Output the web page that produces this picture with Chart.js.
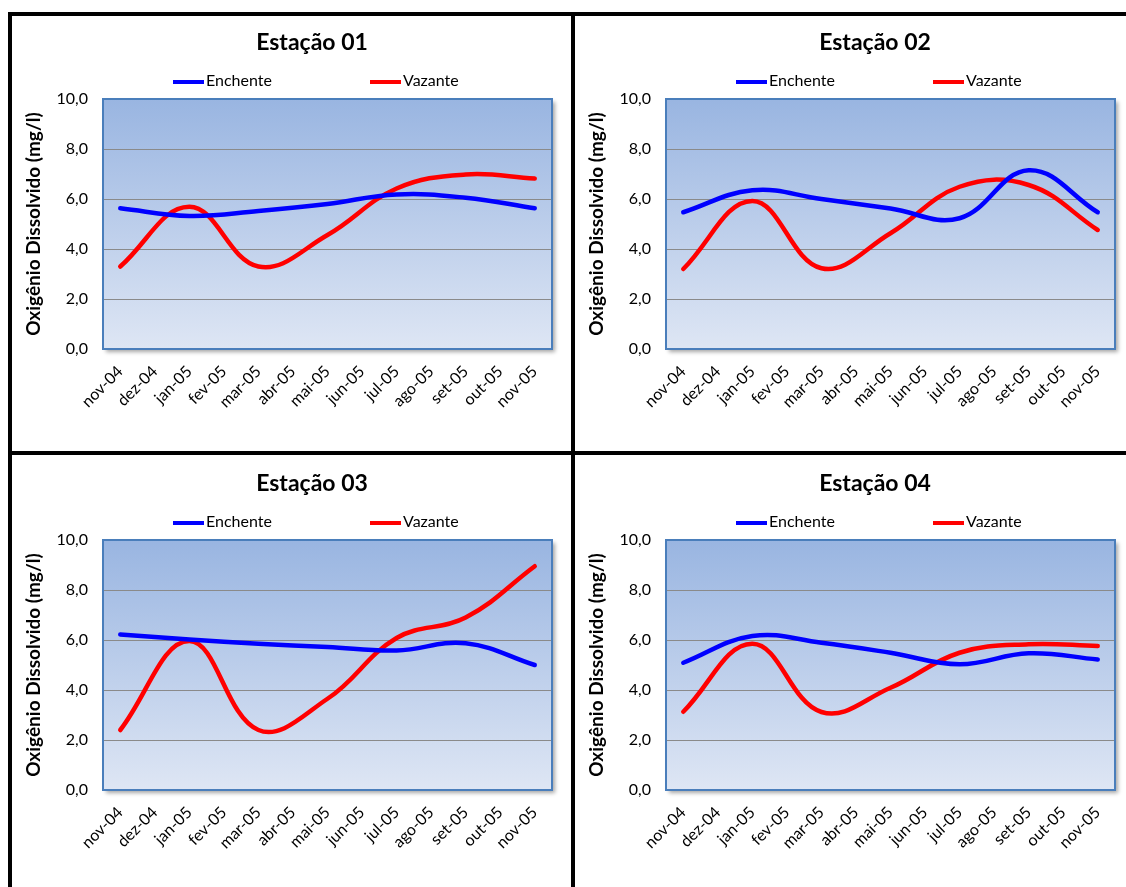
<!DOCTYPE html>
<html lang="pt-BR">
<head>
<meta charset="utf-8">
<title>Oxigênio Dissolvido – Estações 01 a 04</title>
<script src="https://cdn.jsdelivr.net/npm/chart.js@4.4.1/dist/chart.umd.min.js"></script>
<style>
  html, body { margin: 0; padding: 0; background: #fff; }
  body { width: 1126px; height: 887px; position: relative; overflow: hidden; }
  .rule { position: absolute; background: #000; }
  .panel { position: absolute; }
  .panel canvas { display: block; }
</style>
</head>
<body>
<!-- black frame splitting the page into four panels -->
<div class="rule" style="left:8px;top:12px;width:1118px;height:4px"></div>
<div class="rule" style="left:8px;top:12px;width:4px;height:875px"></div>
<div class="rule" style="left:571px;top:12px;width:4px;height:875px"></div>
<div class="rule" style="left:8px;top:451px;width:1118px;height:4px"></div>

<div class="panel" style="left:12px;top:16px"><canvas id="est01" width="559" height="435"></canvas></div>
<div class="panel" style="left:575px;top:16px"><canvas id="est02" width="551" height="435"></canvas></div>
<div class="panel" style="left:12px;top:455px"><canvas id="est03" width="559" height="432"></canvas></div>
<div class="panel" style="left:575px;top:455px"><canvas id="est04" width="551" height="432"></canvas></div>

<script>
// Monthly axis (campaigns were bimonthly; the other months are empty)
const months = ['nov-04', 'dez-04', 'jan-05', 'fev-05', 'mar-05', 'abr-05', 'mai-05',
                'jun-05', 'jul-05', 'ago-05', 'set-05', 'out-05', 'nov-05'];
const yTickLabels = ['0,0', '2,0', '4,0', '6,0', '8,0', '10,0'];
const yAxisTitle = 'Oxigênio Dissolvido (mg/l)';
const seriesNames = ['Enchente', 'Vazante'];
const stationTitles = ['Estação 01', 'Estação 02', 'Estação 03', 'Estação 04'];

// Dissolved oxygen (mg/l) per station, flood tide (Enchente) and ebb tide (Vazante)
const est01Enchente = [5.63, null, 5.32, null, 5.52, null, 5.80, null, 6.18, null, 6.05, null, 5.63];
const est01Vazante  = [3.30, null, 5.69, null, 3.30, null, 4.56, null, 6.42, null, 6.98, null, 6.82];
const est02Enchente = [5.47, null, 6.35, null, 6.00, null, 5.62, null, 5.23, null, 7.15, null, 5.47];
const est02Vazante  = [3.20, null, 5.92, null, 3.23, null, 4.63, null, 6.49, null, 6.56, null, 4.76];
const est03Enchente = [6.22, null, 6.02, null, 5.85, null, 5.72, null, 5.58, null, 5.87, null, 5.00];
const est03Vazante  = [2.40, null, 5.96, null, 2.40, null, 3.65, null, 6.08, null, 6.90, null, 8.95];
const est04Enchente = [5.09, null, 6.16, null, 5.89, null, 5.49, null, 5.03, null, 5.47, null, 5.22];
const est04Vazante  = [3.13, null, 5.85, null, 3.12, null, 4.09, null, 5.49, null, 5.83, null, 5.76];

const seriesColors = ['#0000FF', '#FF0000'];
const FONT = 'Lato, "Noto Sans", sans-serif';

// Gradient plot background with a soft drop shadow, and the blue plot border
const plotFrame = {
  id: 'plotFrame',
  beforeDraw(chart) {
    const { ctx, chartArea: a } = chart;
    ctx.save();
    ctx.shadowColor = 'rgba(0,0,0,0.35)';
    ctx.shadowOffsetX = 3;
    ctx.shadowOffsetY = 3;
    ctx.shadowBlur = 4;
    const g = ctx.createLinearGradient(0, a.top, 0, a.bottom);
    g.addColorStop(0, '#99B5E1');
    g.addColorStop(1, '#DEE6F4');
    ctx.fillStyle = g;
    ctx.fillRect(a.left, a.top, a.right - a.left, a.bottom - a.top);
    ctx.restore();
  },
  beforeDatasetsDraw(chart) {
    const { ctx, chartArea: a } = chart;
    ctx.save();
    ctx.strokeStyle = '#4A7EBB';
    ctx.lineWidth = 2;
    ctx.strokeRect(a.left, a.top, a.right - a.left, a.bottom - a.top);
    ctx.restore();
  }
};

// Station title and the wide-spaced line legend above the plot
const panelHeader = {
  id: 'panelHeader',
  afterDraw(chart, args, opts) {
    const { ctx, chartArea: a } = chart;
    ctx.save();
    ctx.fillStyle = '#000';
    ctx.textBaseline = 'middle';
    ctx.textAlign = 'center';
    ctx.font = 'bold 23px ' + FONT;
    ctx.fillText(opts.title, a.left + opts.titleDx, a.top - opts.titleDy);

    ctx.textAlign = 'left';
    ctx.font = '16px ' + FONT;
    const y = a.top - opts.legendDy;
    chart.data.datasets.forEach((ds, i) => {
      const x0 = a.left + opts.legendX[i];
      ctx.strokeStyle = ds.borderColor;
      ctx.lineWidth = 4;
      ctx.beginPath();
      ctx.moveTo(x0, y + 1);
      ctx.lineTo(x0 + 31, y + 1);
      ctx.stroke();
      ctx.fillText(ds.label, x0 + 33, y);
    });
    ctx.restore();
  }
};

function makeChart(canvasId, title, enchente, vazante, topPad, xAxisHeight, rightPad) {
  const data = {
    labels: months,
    datasets: [enchente, vazante].map((values, i) => ({
      label: seriesNames[i],
      data: values,
      borderColor: seriesColors[i],
      backgroundColor: seriesColors[i],
      borderWidth: 4.5,
      borderCapStyle: 'round',
      borderJoinStyle: 'round',
      pointRadius: 0,
      pointHoverRadius: 0,
      tension: 0.4,
      spanGaps: true,
      fill: false
    }))
  };

  return new Chart(document.getElementById(canvasId), {
    type: 'line',
    data,
    plugins: [plotFrame, panelHeader],
    options: {
      responsive: false,
      animation: false,
      events: [],
      layout: { padding: { top: topPad, right: rightPad, bottom: 0, left: 0 } },
      plugins: {
        legend: { display: false },
        tooltip: { enabled: false },
        panelHeader: {
          title,
          titleDx: 209,
          titleDy: 56,
          legendDy: 18,
          legendX: [70, 267]
        }
      },
      scales: {
        x: {
          offset: true,
          grid: { display: false, drawTicks: false },
          border: { display: false },
          ticks: {
            autoSkip: false,
            maxRotation: 45,
            minRotation: 45,
            padding: 13,
            color: '#000',
            font: { family: FONT, size: 16 }
          },
          afterFit(scale) { scale.height = xAxisHeight; }
        },
        y: {
          min: 0,
          max: 10,
          grid: {
            drawTicks: false,
            lineWidth: 1,
            color: (c) => (c.tick && (c.tick.value === 0 || c.tick.value === 10)) ? 'rgba(0,0,0,0)' : '#8A8A8A'
          },
          border: { display: false },
          ticks: {
            stepSize: 2,
            padding: 15,
            color: '#000',
            font: { family: FONT, size: 16 },
            callback: (v, i) => yTickLabels[i]
          },
          title: {
            display: true,
            text: yAxisTitle,
            color: '#000',
            font: { family: FONT, size: 19, weight: 'bold' },
            padding: { top: 10, bottom: 0 }
          },
          afterFit(scale) { scale.width = 91; }
        }
      }
    }
  });
}

makeChart('est01', stationTitles[0], est01Enchente, est01Vazante, 83, 102, 19);
makeChart('est02', stationTitles[1], est02Enchente, est02Vazante, 83, 102, 11);
makeChart('est03', stationTitles[2], est03Enchente, est03Vazante, 85, 97, 19);
makeChart('est04', stationTitles[3], est04Enchente, est04Vazante, 85, 97, 11);
</script>
</body>
</html>
